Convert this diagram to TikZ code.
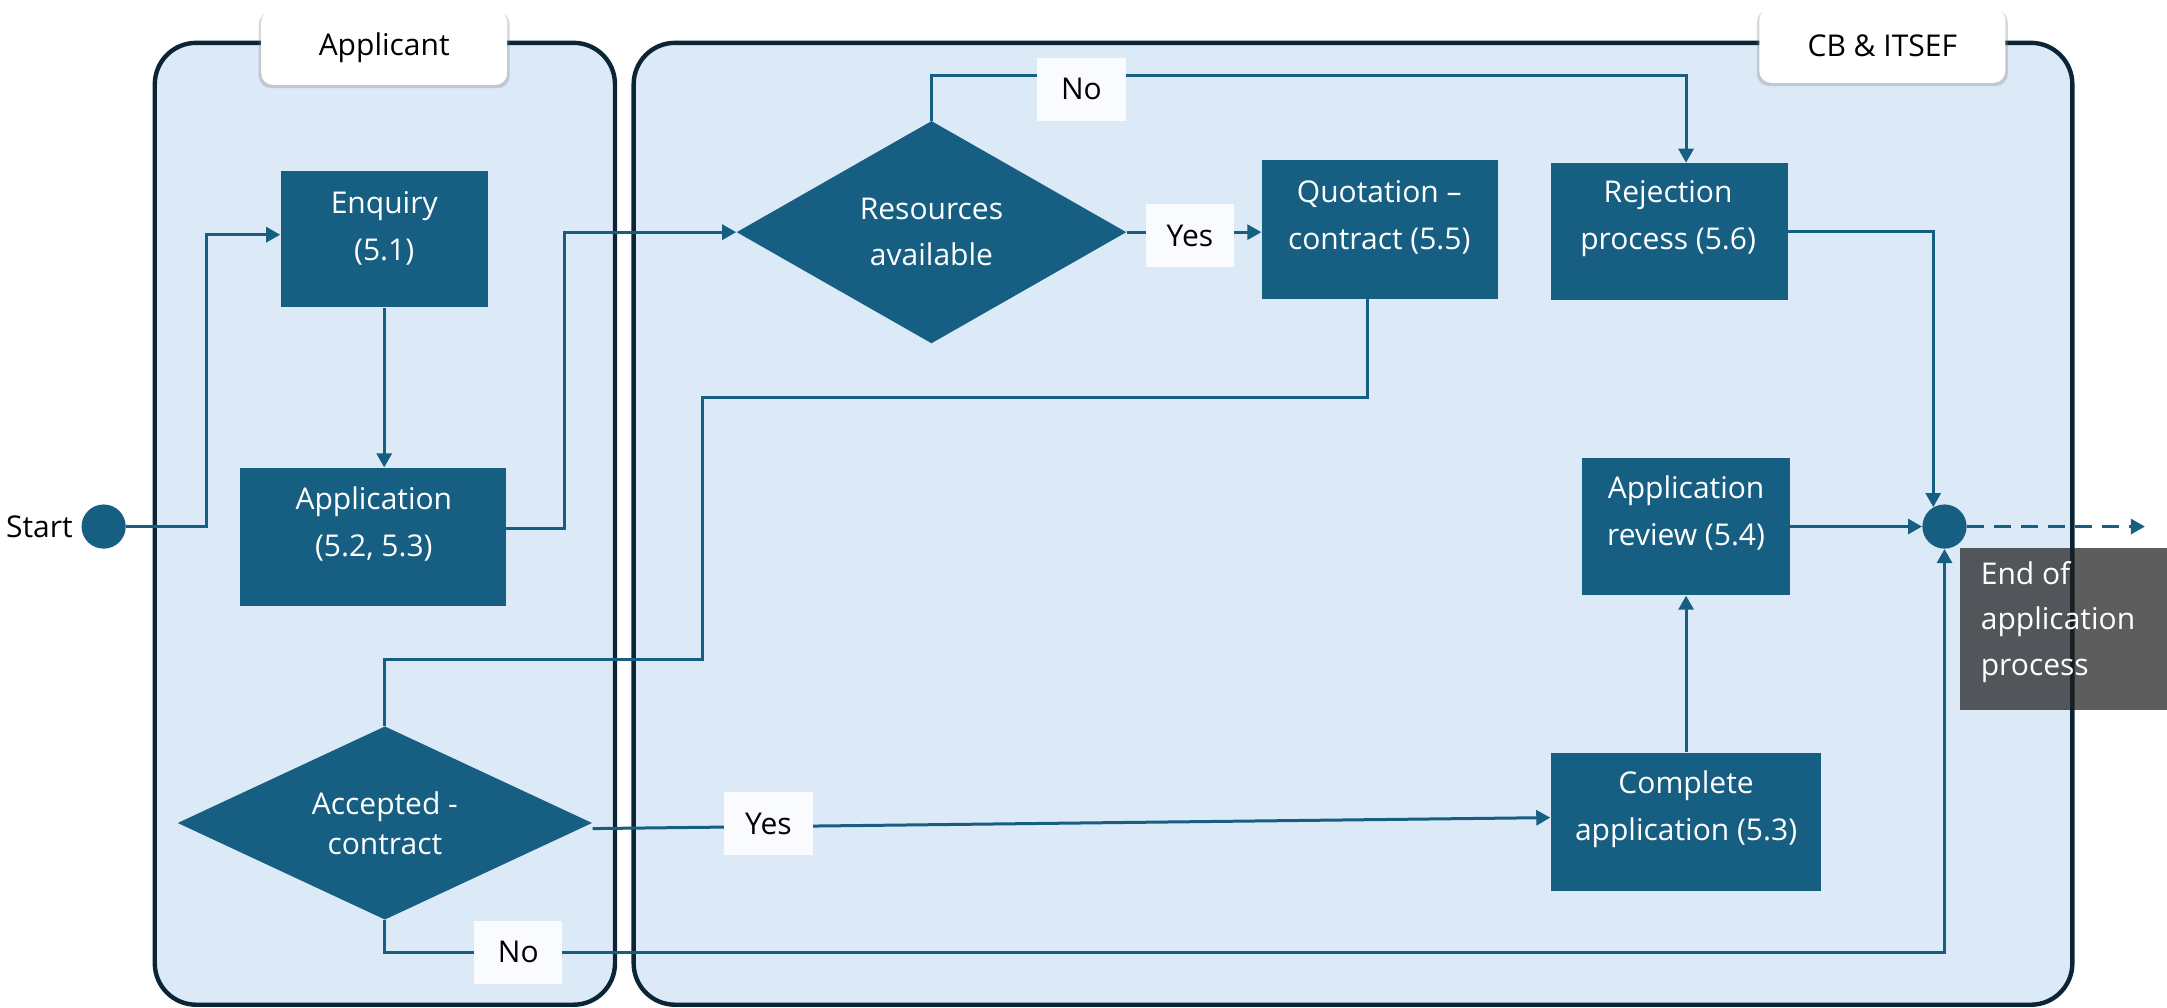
\documentclass[tikz,border=0pt]{standalone}
\usepackage{fontspec}
\setmainfont{Open Sans}
\usetikzlibrary{shapes.geometric,arrows.meta,shadows}
\definecolor{lanefill}{RGB}{220,233,246}
\definecolor{laneline}{RGB}{10,37,54}
\definecolor{boxfill}{RGB}{23,95,130}
\definecolor{lblfill}{RGB}{249,251,254}
\definecolor{endfill}{RGB}{30,30,30}
\pgfdeclarelayer{back}
\pgfdeclarelayer{mid}
\pgfsetlayers{back,mid,main}
\begin{document}
\begin{tikzpicture}[x=0.691pt,y={(0pt,-0.691pt)},
  lane/.style={draw=laneline,line width=2.2pt,fill=lanefill,rounded corners=20.7pt},
  lanelbl/.style={fill=white,rounded corners=6pt,minimum width=123pt,minimum height=37.3pt,inner sep=0pt,font=\fontsize{15}{18}\selectfont,drop shadow={shadow xshift=0pt,shadow yshift=-1.2pt,shadow scale=1.02,opacity=0.3}},
  proc/.style={rectangle,fill=boxfill,inner sep=0pt},
  ptext/.style={text=white,align=center,inner sep=0pt,font=\fontsize{15}{23.5}\selectfont},
  dec/.style={diamond,fill=boxfill,text=white,align=center,inner sep=0pt,font=\fontsize{15}{23}\selectfont},
  dot/.style={circle,fill=boxfill,minimum size=22.1pt,inner sep=0pt},
  lbl/.style={fill=lblfill,minimum width=44.2pt,minimum height=31.4pt,inner sep=0pt,font=\fontsize{15}{18}\selectfont},
  conn/.style={draw=boxfill,line width=1.5pt},
  arr/.style={conn,-{Triangle[length=7pt,width=7.5pt]}},
  endbox/.style={fill=endfill,fill opacity=0.72,anchor=north west,minimum width=103.7pt,minimum height=81.2pt,inner sep=0pt},
  endtext/.style={text=white,anchor=west,inner sep=0pt,align=left,font=\fontsize{15}{22.8}\selectfont}
]
\useasboundingbox (0,0) rectangle (1568,729);

% lanes
\begin{pgfonlayer}{back}
\draw[lane] (112,31) rectangle (445,727);
\draw[lane] (458.5,31) rectangle (1499.5,727);
\end{pgfonlayer}
\node[lanelbl] (lblapp) at (278,34.5) {Applicant};
\node[lanelbl] (lblcb) at (1362,33) {CB \& ITSEF};

% start / end
\node[dot] (start) at (75,381) {};
\node[font=\fontsize{15}{18}\selectfont] (starttxt) at (28.5,381) {Start};
\node[dot] (endc) at (1407,381) {};
\coordinate (endout) at (1552,381);

% process boxes
\node[proc,minimum width=103.65pt,minimum height=68.4pt] (enq) at (278,173) {};
\node[ptext] (enqt) at (278,165.5) {Enquiry\\(5.1)};
\node[proc,minimum width=132.7pt,minimum height=69.1pt] (app) at (270,388.5) {};
\node[ptext] (appt) at (270.5,379) {Application\\(5.2, 5.3)};
\node[proc,minimum width=118.2pt,minimum height=69.1pt] (quo) at (998.5,166) {};
\node[ptext] (quot) at (998,157) {Quotation –\\contract (5.5)};
\node[proc,minimum width=118.2pt,minimum height=68.4pt] (rej) at (1208,167.5) {};
\node[ptext] (rejt) at (1207,158.5) {Rejection\\process (5.6)};
\node[proc,minimum width=103.65pt,minimum height=68.75pt] (rev) at (1220,381) {};
\node[ptext] (revt) at (1220,371.5) {Application\\review (5.4)};
\node[proc,minimum width=135.4pt,minimum height=69.1pt] (cmp) at (1220,594.5) {};
\node[ptext] (cmpt) at (1220,585.5) {Complete\\application (5.3)};

% decisions
\node[dec,minimum width=194.9pt,minimum height=111.25pt,shape aspect=1.75] (res) at (674,168) {Resources\\available};
\node[dec,minimum width=207.3pt,minimum height=96.7pt,shape aspect=2.14,font=\fontsize{15}{20}\selectfont] (acc) at (278.5,595.5) {Accepted -\\contract};

% connectors
\begin{pgfonlayer}{mid}
\draw[arr] (start.east) -- ++(58,0) |- ([yshift=2.2pt]enq.west);
\draw[arr] (enq.south) -- (enq.south |- app.north);
\draw[arr] ([yshift=4.1pt]app.east) -- ++(42,0) |- (res.west);
\draw[arr] (res.east) -- (res.east -| quo.west);
\draw[arr] (res.north) -- ++(0,-32.5) -| (rej.north -| cmp.north);
\draw[conn] ([xshift=-6.2pt]quo.south) -- ++(0,71) -- ++(-481,0) -- ++(0,190) -| (acc.north);
\draw[arr] ([yshift=-2.8pt]acc.east) -- ([yshift=2pt]cmp.west);
\draw[arr] (acc.south) -- ++(0,23.5) -| (endc.south);
\draw[arr] (cmp.north) -- (rev.south);
\draw[arr] (rev.east) -- (endc.west);
\draw[arr] (rej.east) -| (endc.120);
\draw[conn,dash pattern=on 8.5pt off 5pt,-{Triangle[length=7pt,width=7.5pt]}] (endc.east) -- (endout);
\end{pgfonlayer}

% connector labels
\node[lbl] (lno1) at (782.5,64.5) {No};
\node[lbl] (lyes1) at (861,170.5) {Yes};
\node[lbl] (lyes2) at (556,596) {Yes};
\node[lbl] (lno2) at (375,689) {No};

% end label
\node[endbox] (endbg) at (1418,396) {};
\node[endtext] (endtxt) at (1433,450) {End of\\application\\process};
\end{tikzpicture}
\end{document}
